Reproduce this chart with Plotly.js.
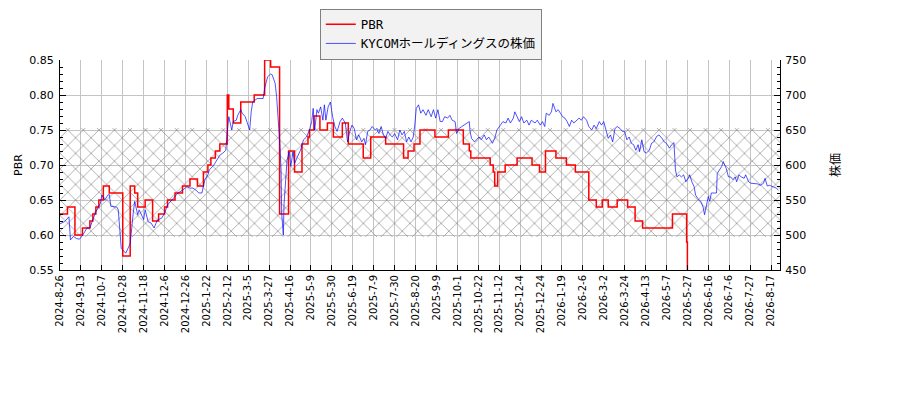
<!DOCTYPE html>
<html>
<head>
<meta charset="utf-8">
<script src="https://cdn.plot.ly/plotly-3.0.1.min.js"></script>
<style>html,body{margin:0;padding:0;background:#fff;}#chart{width:900px;height:400px;}</style>
</head>
<body>
<div id="chart"></div>
<script>
// x axis: trading-day index, tick label every 14 trading days
const tickLabels = ['2024-8-26','2024-9-13','2024-10-7','2024-10-28','2024-11-18','2024-12-6','2024-12-26','2025-1-22','2025-2-12','2025-3-5','2025-3-27','2025-4-16','2025-5-9','2025-5-30','2025-6-19','2025-7-9','2025-7-30','2025-8-20','2025-9-9','2025-10-1','2025-10-22','2025-11-12','2025-12-4','2025-12-24','2026-1-19','2026-2-6','2026-3-2','2026-3-24','2026-4-13','2026-5-7','2026-5-27','2026-6-16','2026-7-6','2026-7-27','2026-8-17'];
const tickStep = 14;
const xEnd = 482;

// PBR (step series): index where the value changes, and the new value
const pbrIdx = [0,5,10,15,20,22,24,26,29,33,42,47,50,52,57,62,66,70,72,77,82,87,92,96,99,101,104,107,112,113,116,121,130,137,141,147,153,157,162,166,167,170,174,179,183,189,193,203,208,218,230,233,237,241,251,260,270,274,275,288,290,291,293,298,306,316,321,325,332,339,345,354,359,363,367,373,380,385,390,410,419.5,420];
const pbrVal = [0.63,0.64,0.60,0.61,0.62,0.63,0.64,0.65,0.67,0.66,0.57,0.67,0.66,0.64,0.65,0.62,0.63,0.64,0.65,0.66,0.67,0.68,0.67,0.69,0.70,0.71,0.72,0.73,0.80,0.78,0.76,0.79,0.80,0.85,0.84,0.63,0.72,0.69,0.73,0.74,0.75,0.77,0.75,0.76,0.74,0.76,0.73,0.71,0.74,0.73,0.71,0.72,0.73,0.75,0.74,0.75,0.73,0.72,0.71,0.70,0.69,0.67,0.69,0.70,0.71,0.70,0.69,0.72,0.71,0.70,0.69,0.65,0.64,0.65,0.64,0.65,0.64,0.62,0.61,0.63,0.59,0.30];

// Stock price (yen)
const stockIdx = [0,3,6,7,9,11,13,15,18,20,22,24,27,28,30,32,33,34,38,39,41,43,44,46,47,49,50,52,53,56,57,59,61,63,65,68,70,72,75,77,79,82,85,87,89,91,93,95,97,99,100,103,105,107,109,111,112,113,115,116,118,119,121,122,124,125,127,128,129,132,134,136,137,139,141,142,144,145,147,148,148.4,149,149.5,150,151,152,153.5,154.5,156,157,159,161,163,165,167,168.5,169.5,170.5,172,173,174.5,176,177,178,179.5,181,182.5,184,185.5,187.5,189,191,192.5,194,195.5,197,198.5,200,202,203.5,204.5,206,207.5,209,211,212,213.5,215,216.5,218,219.5,221,222.5,224,226,227.5,229,230.5,232,233.5,235,236.5,237.5,238.5,240,241.5,243,245,246.5,248.5,250,251.5,253,254.5,256,257.5,259.5,261,262.5,264.5,265.5,267,269,270.5,272,274,274.5,275.5,277.5,279,280.5,282,284,285.5,287,289.5,291,292.5,294.5,296.5,298.5,300,301.5,303.5,304.5,306,307.5,309,310.5,312.5,314,315.5,318,319.5,321.5,323,324.5,325.5,327.5,329,330,332,333.5,335,336.5,338,339.5,341,342.5,344,346,347.5,349,350.5,352.5,354,356,357.5,359,361,362.5,364,365.5,367,368.5,370,371.5,373,375,376.5,378,379.5,381,382.5,384,385.5,387,388,389.5,391,392.5,394.5,396,397.5,399.5,401,403,404.5,406,408,409.5,411,412,413,414.5,416,417.5,419,420.5,421.5,423,424.5,425.5,427,429,430.5,431.5,432.5,434,435,436,438,439.5,440,441.5,443,444,446,447.5,449,450.5,452,453,454.5,456,458,459,461,462.5,464.5,467,469,471,472,473.5,475,477.5,479.5,481];
const stockVal = [516,519,526,493,498,495,494,499,510,510,522,533,545,557,550,557,558,541,540,536,481,476,474,483,488,531,548,529,536,522,536,519,517,510,521,524,531,543,550,555,560,564,569,567,567,564,560,560,579,586,593,600,607,614,617,621,648,669,650,662,664,671,679,674,669,662,650,676,690,695,695,695,710,726,730,729,717,698,636,593,531,517,500,545,586,607,619,598,619,602,612,621,636,640,650,662,681,650,679,674,683,664,686,664,683,690,669,655,648,662,667,660,633,648,657,652,636,643,633,638,629,648,650,655,650,652,645,655,643,638,648,643,640,645,636,650,643,648,633,640,633,640,657,681,686,674,679,671,679,669,679,667,679,662,662,669,667,671,664,662,645,652,655,657,660,662,648,638,633,636,640,636,643,636,640,631,638,650,657,662,660,667,660,667,676,669,662,669,660,664,657,664,660,664,657,662,655,674,671,676,688,676,679,674,669,667,662,655,664,660,664,667,664,669,664,655,650,657,652,662,657,662,650,638,643,633,652,655,652,648,648,636,640,631,629,621,629,619,636,619,617,621,631,633,641,643,638,633,631,624,629,632,593,583,586,583,586,576,581,586,576,569,557,552,548,540,529,538,555,548,560,560,560,588,593,598,605,595,583,583,579,583,576,586,583,581,586,576,574,574,573,571,574,581,570,571,569,567,564];

// Reference band (PBR) drawn with hatching
const bandLow = 0.597;
const bandHigh = 0.753;

const seriesNames = ['PBR', 'KYCOMホールディングスの株価'];

const tickVals = tickLabels.map((_, i) => i * tickStep);

const traces = [
  {
    x: [0, xEnd, xEnd, 0, 0],
    y: [bandLow, bandLow, bandHigh, bandHigh, bandLow],
    type: 'scatter', mode: 'lines', fill: 'toself',
    fillcolor: 'rgba(0,0,0,0)',
    fillpattern: {shape: 'x', size: 11, solidity: 0.12, fgcolor: '#8c8c8c', bgcolor: 'rgba(255,255,255,0)'},
    line: {width: 0}, showlegend: false, hoverinfo: 'skip', yaxis: 'y'
  },
  {
    x: pbrIdx, y: pbrVal, type: 'scatter', mode: 'lines', name: seriesNames[0],
    line: {color: '#ff0000', width: 1.5, shape: 'hv'}, yaxis: 'y'
  },
  {
    x: stockIdx, y: stockVal, type: 'scatter', mode: 'lines', name: seriesNames[1],
    line: {color: '#0000ff', width: 0.8}, yaxis: 'y2', opacity: 0.85
  }
];

const tickFont = {family: 'DejaVu Sans, sans-serif', size: 11, color: '#000'};

const layout = {
  width: 900, height: 400,
  margin: {l: 60, r: 120, t: 60, b: 130, autoexpand: false},
  paper_bgcolor: '#fff', plot_bgcolor: '#fff',
  showlegend: true,
  legend: {
    x: 0.515, xanchor: 'center', y: 1.245, yanchor: 'top',
    bgcolor: '#f2f2f2', bordercolor: '#808080', borderwidth: 1,
    font: {family: 'DejaVu Sans Mono, Noto Sans CJK JP, sans-serif', size: 12.5, color: '#000'},
    tracegroupgap: 0
  },
  xaxis: {
    range: [0, xEnd], tickmode: 'array', tickvals: tickVals, ticktext: tickLabels,
    tickangle: -90, tickfont: {family: 'DejaVu Sans, sans-serif', size: 10, color: '#000'},
    showgrid: true, gridcolor: '#c4c4c4', gridwidth: 1,
    showline: true, linecolor: '#000', linewidth: 1, mirror: false,
    ticks: 'inside', ticklen: 5, tickcolor: '#000', zeroline: false
  },
  yaxis: {
    range: [0.55, 0.85], dtick: 0.05, tick0: 0.55, tickformat: '.2f',
    tickfont: tickFont, ticklabelstandoff: 3,
    title: {text: 'PBR', font: {family: 'DejaVu Sans, sans-serif', size: 11, color: '#000'}, standoff: 4},
    showgrid: true, gridcolor: '#c4c4c4', gridwidth: 1,
    showline: true, linecolor: '#000', linewidth: 1,
    ticks: 'inside', ticklen: 6, tickcolor: '#000', zeroline: false,
    minor: {ticks: 'inside', dtick: 0.01, ticklen: 3, tickcolor: '#000', showgrid: false}
  },
  yaxis2: {
    overlaying: 'y', side: 'right',
    range: [450, 750], dtick: 50, tick0: 450,
    tickfont: tickFont, ticklabelstandoff: 2,
    title: {text: '株価', font: {family: 'Noto Sans CJK JP, sans-serif', size: 12, color: '#000'}, standoff: 26},
    showgrid: false,
    showline: true, linecolor: '#000', linewidth: 1,
    ticks: 'inside', ticklen: 6, tickcolor: '#000', zeroline: false,
    minor: {ticks: 'inside', dtick: 10, ticklen: 3, tickcolor: '#000', showgrid: false}
  }
};

Plotly.newPlot('chart', traces, layout, {displayModeBar: false, staticPlot: true});
</script>
</body>
</html>
